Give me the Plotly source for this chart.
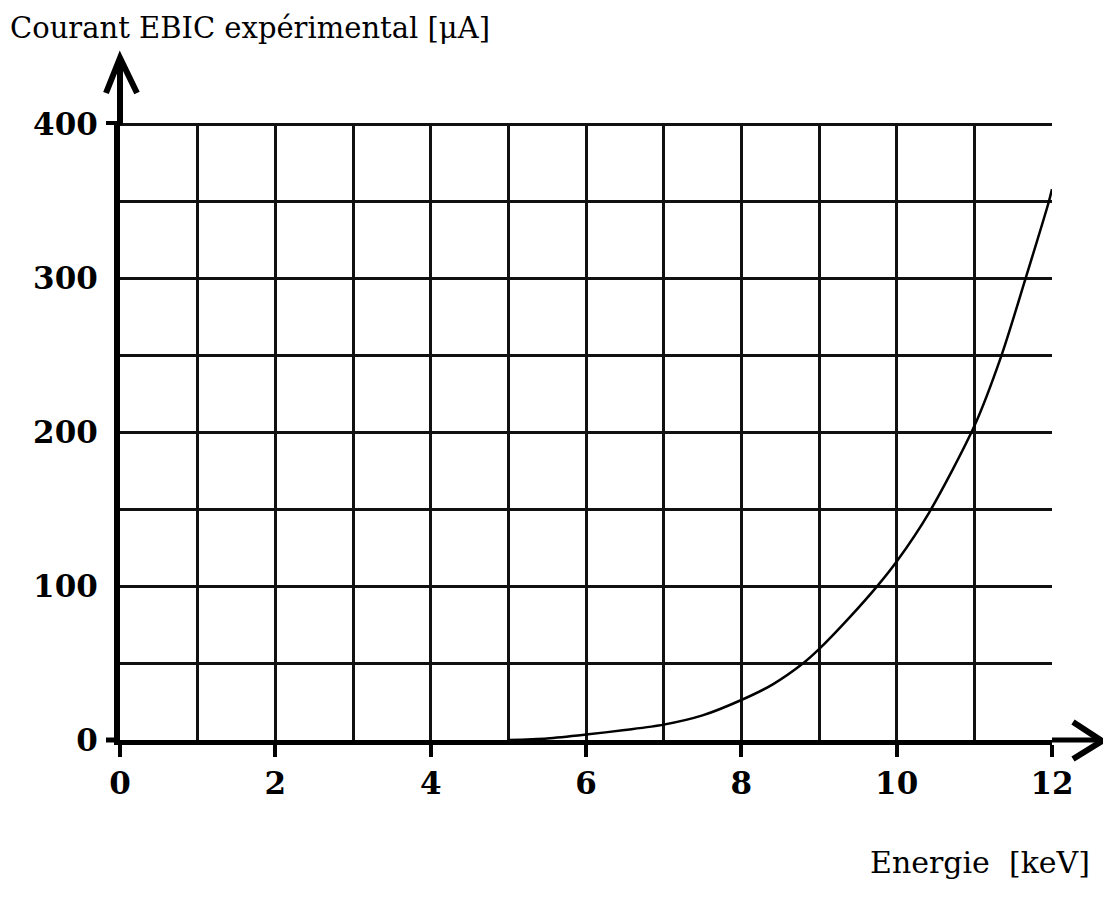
import plotly.graph_objects as go

# Data
energie_kev = [5.0, 5.5, 6.0, 6.5, 7.0, 7.5, 8.0, 8.4, 8.8, 9.0, 9.4, 9.75, 10.0, 10.42, 11.0, 11.35, 11.66, 11.96, 12.0]
courant_ua = [0, 1, 3.5, 6.5, 10, 16, 26, 36, 50, 59, 80, 100, 116, 148, 204, 250, 300, 350, 358]

x_tickvals = [0, 2, 4, 6, 8, 10, 12]
y_tickvals = [0, 100, 200, 300, 400]

W, H = 1111, 909
OFF = 8  # page body margin
ML, MT = 112, 115
PW, PH = 932, 617
MR, MB = W - ML - PW, H - MT - PH


def px(xp):
    return (xp - OFF - ML) / PW


def py(yp):
    return (MT + PH + OFF - yp) / PH


fig = go.Figure()
fig.add_trace(go.Scatter(
    x=energie_kev, y=courant_ua, mode="lines",
    line=dict(color="black", width=2.5, shape="spline", smoothing=0.8),
    showlegend=False, hoverinfo="skip", cliponaxis=False,
))

grid_col = "#111111"
tickfont = dict(family="DejaVu Serif", size=31, color="black", weight="bold")

fig.update_xaxes(
    range=[0, 12], tickmode="array", tickvals=x_tickvals,
    ticktext=[str(v) for v in x_tickvals],
    showgrid=True, gridcolor=grid_col, gridwidth=2.5,
    minor=dict(dtick=1, tick0=0, showgrid=True, gridcolor=grid_col, gridwidth=2.5, ticks=""),
    showline=True, linecolor="black", linewidth=5,
    ticks="outside", ticklen=12, tickwidth=4, tickcolor="black",
    ticklabelstandoff=0,
    tickfont=tickfont, zeroline=False, fixedrange=True,
)
fig.update_yaxes(
    range=[0, 401], tickmode="array", tickvals=y_tickvals,
    ticktext=[str(v) for v in y_tickvals],
    showgrid=True, gridcolor=grid_col, gridwidth=2.5,
    minor=dict(dtick=50, tick0=0, showgrid=True, gridcolor=grid_col, gridwidth=2.5, ticks=""),
    showline=True, linecolor="black", linewidth=6,
    ticks="", ticklabelstandoff=10,
    tickfont=tickfont, zeroline=False, fixedrange=True,
)

shapes = []
# y axis extension and arrow head
shapes.append(dict(type="line", xref="paper", yref="paper", x0=px(120), x1=px(120), y0=py(125), y1=py(58),
                   line=dict(color="black", width=6)))
shapes.append(dict(type="path", xref="paper", yref="paper",
                   path=f"M {px(106)} {py(93)} L {px(120)} {py(58)} L {px(137)} {py(93)}",
                   line=dict(color="black", width=6)))
# x axis extension left, right and arrow head
shapes.append(dict(type="line", xref="paper", yref="paper", x0=px(106), x1=px(120), y0=py(740), y1=py(740),
                   line=dict(color="black", width=5)))
shapes.append(dict(type="line", xref="paper", yref="paper", x0=px(1052), x1=px(1100), y0=py(740), y1=py(740),
                   line=dict(color="black", width=5)))
shapes.append(dict(type="path", xref="paper", yref="paper",
                   path=f"M {px(1073)} {py(722)} L {px(1102)} {py(741)} L {px(1073)} {py(759)}",
                   line=dict(color="black", width=6)))
# small tick at 400 on y axis
shapes.append(dict(type="line", xref="paper", yref="paper", x0=px(106), x1=px(120), y0=py(123), y1=py(123),
                   line=dict(color="black", width=4)))

fig.update_layout(
    width=W, height=H,
    margin=dict(l=ML, r=MR, t=MT, b=MB, autoexpand=False),
    paper_bgcolor="white", plot_bgcolor="white",
    shapes=shapes,
    annotations=[
        dict(text="Courant EBIC expérimental [μA]", xref="paper", yref="paper",
             x=px(8), y=py(28), xanchor="left", yanchor="middle", showarrow=False,
             font=dict(family="DejaVu Serif", size=29, color="black")),
        dict(text="Energie  [keV]", xref="paper", yref="paper",
             x=px(1092), y=py(862), xanchor="right", yanchor="middle", showarrow=False,
             font=dict(family="DejaVu Serif", size=30, color="black")),
    ],
)

fig.write_html("out.html")
